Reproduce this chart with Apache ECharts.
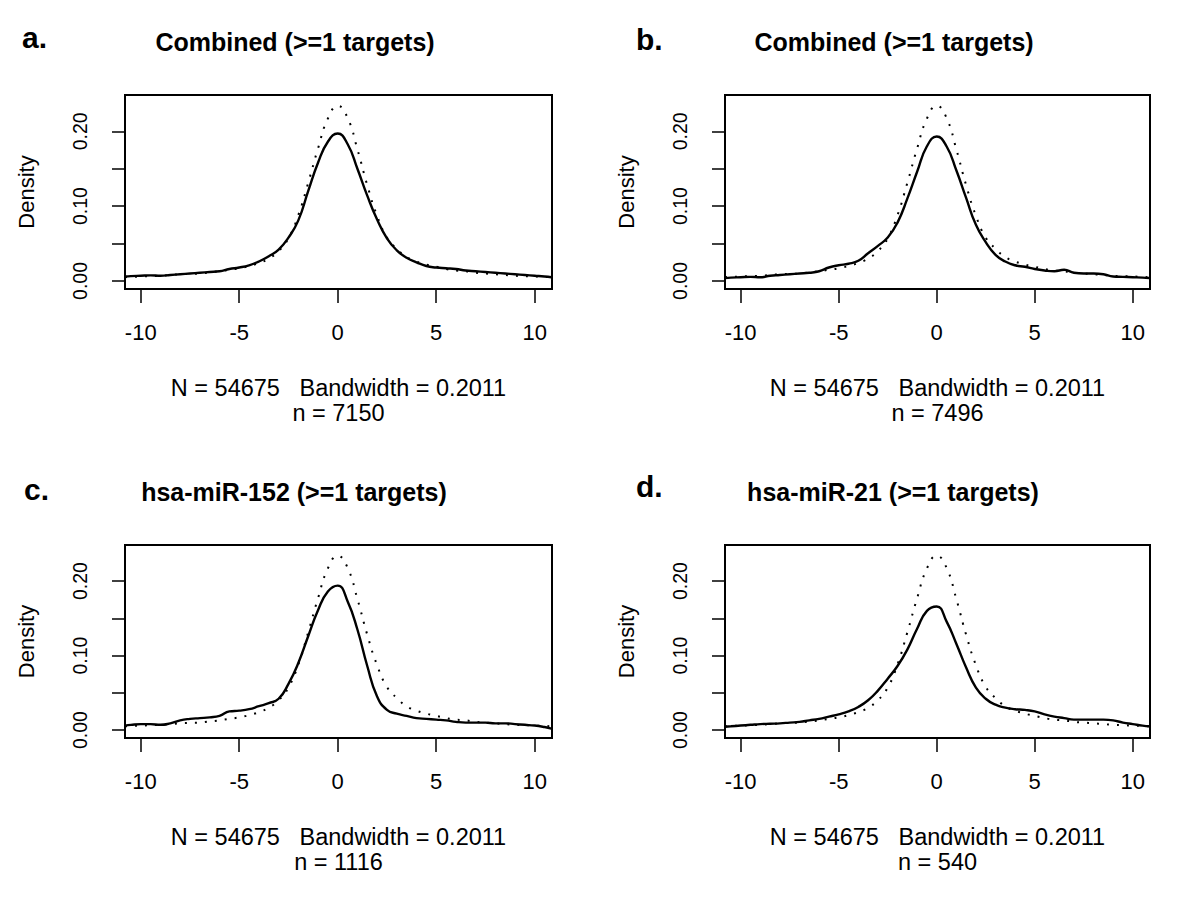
<!DOCTYPE html>
<html>
<head>
<meta charset="utf-8">
<script src="https://cdn.jsdelivr.net/npm/echarts@6/dist/echarts.min.js"></script>
<style>html,body{margin:0;padding:0;background:#fff;}#chart{width:1200px;height:905px;}</style>
</head>
<body>
<div id="chart"></div>
<script>
// ---- data ----
const xGrid = [-10.8,-10.5,-10,-9.5,-9,-8.5,-8,-7.5,-7,-6.5,-6,-5.5,-5,-4.5,-4,-3.5,-3,-2.5,-2,-1.5,-1,-0.5,0,0.5,1,1.5,2,2.5,3,3.5,4,4.5,5,5.5,6,6.5,7,7.5,8,8.5,9,9.5,10,10.5,10.85];
// dotted reference density (all probes)
const refDensity = [0.005,0.0055,0.006,0.0065,0.007,0.008,0.009,0.0095,0.010,0.0115,0.013,0.015,0.017,0.020,0.024,0.030,0.040,0.057,0.088,0.131,0.177,0.217,0.234,0.218,0.176,0.128,0.087,0.058,0.043,0.032,0.026,0.022,0.019,0.016,0.014,0.013,0.011,0.010,0.009,0.008,0.007,0.0065,0.006,0.0055,0.005];
const densA = [0.006,0.0065,0.007,0.0075,0.007,0.008,0.009,0.010,0.011,0.012,0.013,0.016,0.018,0.021,0.026,0.033,0.042,0.058,0.081,0.120,0.158,0.186,0.197,0.183,0.150,0.114,0.082,0.057,0.041,0.031,0.025,0.020,0.018,0.017,0.016,0.014,0.013,0.012,0.011,0.010,0.009,0.008,0.007,0.006,0.005];
const densB = [0.004,0.0045,0.005,0.0055,0.005,0.007,0.008,0.009,0.010,0.011,0.013,0.018,0.021,0.023,0.027,0.037,0.047,0.058,0.078,0.110,0.146,0.180,0.193,0.180,0.148,0.111,0.075,0.052,0.035,0.026,0.021,0.019,0.016,0.014,0.013,0.015,0.011,0.010,0.010,0.009,0.006,0.0055,0.005,0.0045,0.004];
const densC = [0.006,0.007,0.008,0.008,0.007,0.009,0.013,0.015,0.016,0.017,0.019,0.025,0.026,0.028,0.032,0.036,0.042,0.062,0.090,0.126,0.161,0.186,0.194,0.173,0.135,0.086,0.045,0.027,0.022,0.019,0.016,0.015,0.014,0.013,0.011,0.010,0.010,0.010,0.009,0.009,0.008,0.007,0.006,0.004,0.002];
const densD = [0.0045,0.005,0.006,0.007,0.008,0.0085,0.009,0.010,0.011,0.013,0.015,0.018,0.021,0.025,0.031,0.040,0.053,0.069,0.086,0.108,0.136,0.160,0.166,0.146,0.116,0.084,0.057,0.042,0.034,0.030,0.028,0.027,0.025,0.021,0.018,0.016,0.014,0.014,0.014,0.014,0.013,0.010,0.008,0.006,0.005];
const panelLetters = ['a.','b.','c.','d.'];
const panelTitles = ['Combined (>=1 targets)','Combined (>=1 targets)','hsa-miR-152 (>=1 targets)','hsa-miR-21 (>=1 targets)'];
const sampleSizes = ['7150','7496','1116','540'];
const bigN = '54675';
const bandwidth = '0.2011';
const xTickValues = [-10,-5,0,5,10];
const yTickValues = [0,0.05,0.10,0.15,0.20];
const yLabelValues = [0,0.10,0.20];
const subsetDensities = [densA, densB, densC, densD];

// ---- layout ----
const FONT = '"Liberation Sans", Arial, Helvetica, sans-serif';
const grids = [
  {left:125, top:95, width:427, height:194},
  {left:725, top:95, width:425, height:194},
  {left:125, top:545, width:427, height:193},
  {left:725, top:545, width:425, height:193}
];
const titlePos = [[295,41.7],[894,41.7],[294,491.7],[893,491.7]];
const letterPos = [[22,37],[636,39.5],[24,489.5],[636,486.5]];

const pairs = ys => xGrid.map((x,i)=>[x, ys[i]]);

const option = {
  animation:false,
  backgroundColor:'#fff',
  grid: grids.map(g=>Object.assign({show:true, borderColor:'#000', borderWidth:2, backgroundColor:'transparent'}, g)),
  xAxis: grids.map((g,i)=>({
    type:'value', gridIndex:i, min:-10.8, max:10.88,
    axisLine:{show:false, onZero:false},
    splitLine:{show:false},
    axisTick:{show:true, length:14, lineStyle:{color:'#000', width:1.5}, customValues:xTickValues},
    axisLabel:{customValues:xTickValues, fontSize:22, color:'#000', fontFamily:FONT, margin:32},
    name:'N = '+bigN+'   Bandwidth = '+bandwidth+'\nn = '+sampleSizes[i],
    nameLocation:'middle', nameGap:86,
    nameTextStyle:{fontSize:23.5, color:'#000', fontFamily:FONT, lineHeight:25}
  })),
  yAxis: grids.map((g,i)=>({
    type:'value', gridIndex:i, min:-0.0107, max:0.2485,
    axisLine:{show:false, onZero:false},
    splitLine:{show:false},
    axisTick:{show:true, length:13, lineStyle:{color:'#000', width:1.5}, customValues:yTickValues},
    axisLabel:{customValues:yLabelValues, rotate:90, fontSize:19.5, color:'#000', fontFamily:FONT, margin:35,
      formatter:v=>Number(v).toFixed(2)},
    name:'Density', nameLocation:'middle', nameGap:88,
    nameTextStyle:{fontSize:22, color:'#000', fontFamily:FONT}
  })),
  series: [].concat(...grids.map((g,i)=>[
    {type:'line', xAxisIndex:i, yAxisIndex:i, data:pairs(refDensity), showSymbol:false, smooth:0.5,
      lineStyle:{color:'#000', width:2, type:[2,8]}, z:2},
    {type:'line', xAxisIndex:i, yAxisIndex:i, data:pairs(subsetDensities[i]), showSymbol:false, smooth:0.5,
      lineStyle:{color:'#000', width:2.4}, z:3}
  ])),
  graphic: [].concat(
    panelTitles.map((t,i)=>({type:'text', x:titlePos[i][0], y:titlePos[i][1],
      style:{text:t, fill:'#000', font:'bold 25px '+FONT, textAlign:'center', textVerticalAlign:'middle'}})),
    panelLetters.map((t,i)=>({type:'text', x:letterPos[i][0], y:letterPos[i][1],
      style:{text:t, fill:'#000', font:'bold 30px '+FONT, textAlign:'left', textVerticalAlign:'middle'}}))
  )
};
const chart = echarts.init(document.getElementById('chart'), null, {renderer:'svg'});
chart.setOption(option);
</script>
</body>
</html>
